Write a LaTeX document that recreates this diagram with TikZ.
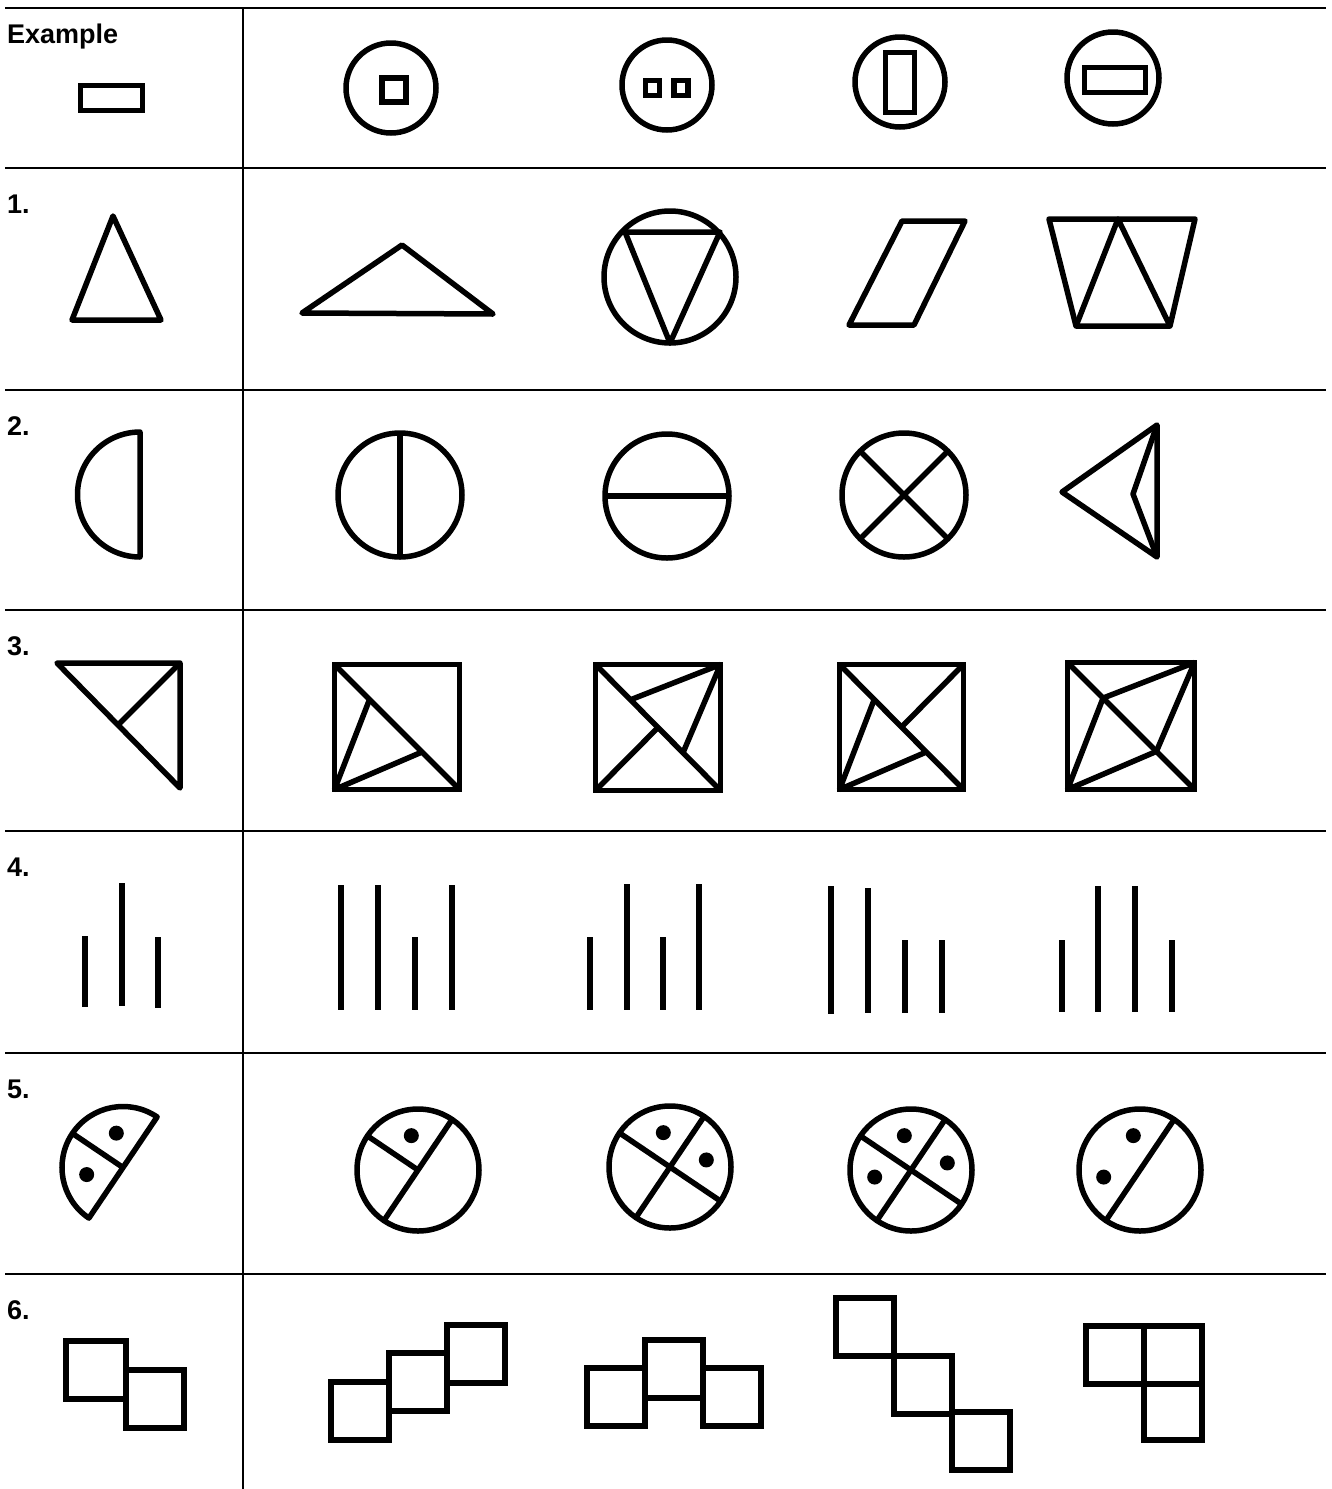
\documentclass[tikz,border=0pt]{standalone}
\usepackage{fontspec}
\setmainfont{Liberation Sans}
\usetikzlibrary{calc}
\begin{document}
\begin{tikzpicture}[x=1pt,y=-1pt,
  rule/.style={line width=2.8pt},
  fig/.style={line width=5.5pt, line join=round},
  sq/.style={line width=5.5pt, line join=miter},
  bar/.style={line width=5.5pt},
  dot/.style={fill=black},
  lab/.style={font=\fontsize{27}{30}\selectfont\bfseries, inner sep=0pt, anchor=base west}]
\fill[white] (0,0) rectangle (1331,1489);
\useasboundingbox (0,0) rectangle (1331,1489);
% table rules
\foreach \y in {8,168,390,610,831,1053,1274} \draw[rule] (5,\y) -- (1326,\y);
\draw[rule] (243,8) -- (243,1489);
% labels
\node[lab] (ex) at (7,43) {Example};
\node[lab] (l1) at (7,213) {1.};
\node[lab] (l2) at (7,435) {2.};
\node[lab] (l3) at (7,655) {3.};
\node[lab] (l4) at (7,876) {4.};
\node[lab] (l5) at (7,1098) {5.};
\node[lab] (l6) at (7,1319) {6.};
% ---- Example row
\draw[sq] (80.5,85.5) rectangle (142.5,110.5);
\draw[fig] (391,88) circle (45pt);
\draw[sq] (382,78) rectangle (406,102);
\draw[fig] (667,85) circle (45pt);
\draw[sq] (645.5,80.5) rectangle (659.5,95.5);
\draw[sq] (674,80.5) rectangle (688,95.5);
\draw[fig] (900,82) circle (45pt);
\draw[sq] (885.5,52.5) rectangle (914.5,112.5);
\draw[fig] (1113,78) circle (46pt);
\draw[sq] (1084.5,67.5) rectangle (1145.5,92.5);
% ---- Row 1
\draw[fig] (113,216) -- (72,320) -- (161,320) -- cycle;
\draw[fig] (402,245) -- (302,313) -- (493,314) -- cycle;
\draw[fig] (670,277) circle (66pt);
\draw[fig] (625,232) -- (720,232) -- (670,343) -- cycle;
\draw[fig] (849,325) -- (914,325) -- (965,221) -- (902,221) -- cycle;
\draw[fig] (1049,219) -- (1195,219) -- (1170,326) -- (1076,326) -- cycle;
\draw[fig] (1076,326) -- (1118,219) -- (1170,326);
% ---- Row 2
\draw[fig] (140,432) arc[start angle=90,end angle=270,radius=62.5pt] -- cycle;
\draw[fig] (400,495) circle (62pt);
\draw[fig] (400,433) -- (400,557);
\draw[fig] (667,496) circle (62pt);
\draw[fig] (605,496) -- (729,496);
\coordinate (x2) at (904,495);
\draw[fig] (x2) circle (62pt);
\draw[fig] ($(x2)+(45:62pt)$) -- ($(x2)+(225:62pt)$);
\draw[fig] ($(x2)+(135:62pt)$) -- ($(x2)+(315:62pt)$);
\draw[fig] (1157,425) -- (1062,492) -- (1157,557) -- cycle;
\draw[fig] (1157,425) -- (1133,494) -- (1157,557);
% ---- Row 3
\draw[fig] (57,663) -- (180,663) -- (180,788) -- cycle;
\draw[fig] (180,663) -- (118,725);
% squares
\coordinate (a1) at (334.5,664.5); \coordinate (b1) at (459.5,789.5);
\coordinate (a2) at (595.5,664.5); \coordinate (b2) at (720.5,790.5);
\coordinate (a3) at (839.5,664.5); \coordinate (b3) at (963.5,789.5);
\coordinate (a4) at (1067.5,662.5); \coordinate (b4) at (1194.5,789.5);
\foreach \i in {1,2,3,4} {
  \draw[sq] (a\i) rectangle (b\i);
  \draw[fig] (a\i) -- (b\i);
  \coordinate (p\i) at ($(a\i)!0.28!(b\i)$);
  \coordinate (q\i) at ($(a\i)!0.70!(b\i)$);
  \coordinate (m\i) at ($(a\i)!0.5!(b\i)$);
  \coordinate (bl\i) at (a\i |- b\i);
  \coordinate (tr\i) at (b\i |- a\i);
}
\draw[fig] (bl1) -- (p1) (bl1) -- (q1);
\draw[fig] (bl2) -- (m2) (tr2) -- (p2) (tr2) -- (q2);
\draw[fig] (tr3) -- (m3) (bl3) -- (p3) (bl3) -- (q3);
\draw[fig] (tr4) -- (p4) (tr4) -- (q4) (bl4) -- (p4) (bl4) -- (q4);
% ---- Row 4 bars
\draw[bar] (85,936) -- (85,1007);
\draw[bar] (122,883) -- (122,1006);
\draw[bar] (158,937) -- (158,1008);
\draw[bar] (341,885) -- (341,1010);
\draw[bar] (378,885) -- (378,1010);
\draw[bar] (415,937) -- (415,1010);
\draw[bar] (452,885) -- (452,1010);
\draw[bar] (590,937) -- (590,1010);
\draw[bar] (627,884) -- (627,1010);
\draw[bar] (663,937) -- (663,1010);
\draw[bar] (699,884) -- (699,1010);
\draw[bar] (831,886) -- (831,1014);
\draw[bar] (868,888) -- (868,1013);
\draw[bar] (905,940) -- (905,1013);
\draw[bar] (942,940) -- (942,1013);
\draw[bar] (1062,940) -- (1062,1012);
\draw[bar] (1098,886) -- (1098,1012);
\draw[bar] (1135,886) -- (1135,1012);
\draw[bar] (1172,940) -- (1172,1012);
% ---- Row 5
\coordinate (c0) at (123,1167.5);
\draw[fig] ($(c0)+(56:61pt)$) arc[start angle=56,end angle=236,radius=61pt] -- cycle;
\draw[fig] (c0) -- ($(c0)+(146:61pt)$);
\fill[dot] ($(c0)+(101:35pt)$) circle (7.5pt);
\fill[dot] ($(c0)+(191:37pt)$) circle (7.5pt);
\coordinate (c1) at (418,1170);
\draw[fig] (c1) circle (61pt);
\draw[fig] ($(c1)+(56:61pt)$) -- ($(c1)+(236:61pt)$);
\draw[fig] (c1) -- ($(c1)+(146:61pt)$);
\fill[dot] ($(c1)+(101:35pt)$) circle (7.5pt);
\coordinate (c2) at (670,1167);
\draw[fig] (c2) circle (61pt);
\draw[fig] ($(c2)+(56:61pt)$) -- ($(c2)+(236:61pt)$);
\draw[fig] ($(c2)+(146:61pt)$) -- ($(c2)+(326:61pt)$);
\fill[dot] ($(c2)+(101:35pt)$) circle (7.5pt);
\fill[dot] ($(c2)+(11:37pt)$) circle (7.5pt);
\coordinate (c3) at (911,1170);
\draw[fig] (c3) circle (61pt);
\draw[fig] ($(c3)+(56:61pt)$) -- ($(c3)+(236:61pt)$);
\draw[fig] ($(c3)+(146:61pt)$) -- ($(c3)+(326:61pt)$);
\fill[dot] ($(c3)+(101:35pt)$) circle (7.5pt);
\fill[dot] ($(c3)+(191:37pt)$) circle (7.5pt);
\fill[dot] ($(c3)+(11:37pt)$) circle (7.5pt);
\coordinate (c4) at (1140,1170);
\draw[fig] (c4) circle (61pt);
\draw[fig] ($(c4)+(56:61pt)$) -- ($(c4)+(236:61pt)$);
\fill[dot] ($(c4)+(101:35pt)$) circle (7.5pt);
\fill[dot] ($(c4)+(191:37pt)$) circle (7.5pt);
% ---- Row 6 squares
\draw[sq] (66,1341) rectangle (126,1399);
\draw[sq] (126,1370) rectangle (184,1428);
\draw[sq] (331,1382) rectangle (389,1440);
\draw[sq] (389,1353) rectangle (447,1411);
\draw[sq] (447,1325) rectangle (505,1383);
\draw[sq] (587,1368) rectangle (645,1426);
\draw[sq] (645,1340) rectangle (703,1398);
\draw[sq] (703,1368) rectangle (761,1426);
\draw[sq] (836,1298) rectangle (894,1356);
\draw[sq] (894,1356) rectangle (952,1414);
\draw[sq] (952,1412) rectangle (1010,1470);
\draw[sq] (1086,1326) rectangle (1144,1384);
\draw[sq] (1144,1326) rectangle (1202,1384);
\draw[sq] (1144,1384) rectangle (1202,1440);
\end{tikzpicture}
\end{document}
